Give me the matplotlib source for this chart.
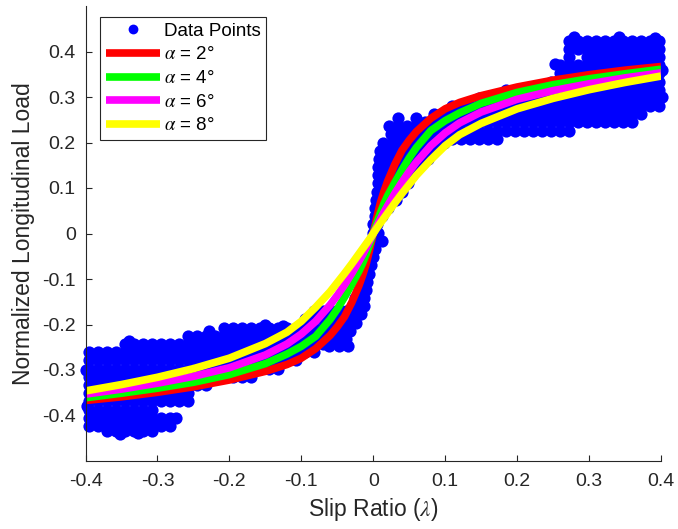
import numpy as np
import matplotlib.pyplot as plt

plt.rcParams['font.family'] = 'Liberation Sans'
plt.rcParams['mathtext.fontset'] = 'stix'

# fitted curves
slip = [-0.4, -0.35, -0.3, -0.25, -0.2, -0.15, -0.12, -0.1, -0.08, -0.06, -0.05, -0.04,
        -0.03, -0.02, -0.015, -0.01, -0.005, 0.0, 0.005, 0.01, 0.015, 0.02, 0.03, 0.04,
        0.05, 0.06, 0.08, 0.1, 0.12, 0.15, 0.2, 0.25, 0.3, 0.35, 0.4]
load_a2 = [-0.367, -0.359, -0.349, -0.337, -0.322, -0.303, -0.288, -0.274, -0.253, -0.224,
           -0.205, -0.183, -0.152, -0.115, -0.093, -0.068, -0.036, 0.0, 0.036, 0.068, 0.093,
           0.115, 0.152, 0.183, 0.205, 0.224, 0.253, 0.274, 0.288, 0.303, 0.322, 0.337, 0.349,
           0.359, 0.367]
load_a4 = [-0.361, -0.351, -0.340, -0.327, -0.310, -0.286, -0.265, -0.248, -0.226, -0.189,
           -0.166, -0.140, -0.112, -0.083, -0.066, -0.046, -0.024, 0.0, 0.024, 0.046, 0.066,
           0.083, 0.112, 0.140, 0.166, 0.189, 0.226, 0.248, 0.265, 0.286, 0.310, 0.327, 0.340,
           0.351, 0.361]
load_a6 = [-0.353, -0.342, -0.329, -0.314, -0.295, -0.267, -0.243, -0.221, -0.193, -0.157,
           -0.136, -0.113, -0.088, -0.061, -0.047, -0.032, -0.016, 0.0, 0.016, 0.032, 0.047,
           0.061, 0.088, 0.113, 0.136, 0.157, 0.193, 0.221, 0.243, 0.267, 0.295, 0.314, 0.329,
           0.342, 0.353]
load_a8 = [-0.346, -0.332, -0.316, -0.297, -0.274, -0.242, -0.217, -0.193, -0.162, -0.128,
           -0.108, -0.088, -0.067, -0.045, -0.034, -0.023, -0.012, 0.0, 0.012, 0.023, 0.034,
           0.045, 0.067, 0.088, 0.108, 0.128, 0.162, 0.193, 0.217, 0.242, 0.274, 0.297, 0.316,
           0.332, 0.346]
curve_labels = [r'$\alpha$ = 2°', r'$\alpha$ = 4°', r'$\alpha$ = 6°', r'$\alpha$ = 8°']

# measured points, one row per load level: (load, [slip values])
rows_right = [
    (0.424, [0.272, 0.285, 0.297, 0.310, 0.322, 0.335, 0.347, 0.360, 0.372, 0.385, 0.397]),
    (0.406, [0.272, 0.285, 0.297, 0.310, 0.322, 0.335, 0.347, 0.360, 0.372, 0.385, 0.397]),
    (0.388, [0.272, 0.297, 0.310, 0.322, 0.335, 0.347, 0.360, 0.372, 0.385, 0.397]),
    (0.370, [0.260, 0.272, 0.285, 0.297, 0.310, 0.322, 0.335, 0.347, 0.360, 0.372, 0.385,
             0.397]),
    (0.352, [0.260, 0.272, 0.285, 0.297, 0.310, 0.322, 0.335, 0.347, 0.360, 0.372, 0.385,
             0.397]),
    (0.334, [0.247, 0.260, 0.272, 0.285, 0.297, 0.310, 0.322, 0.335, 0.347, 0.360, 0.372,
             0.385, 0.397]),
    (0.316, [0.185, 0.197, 0.210, 0.222, 0.235, 0.247, 0.260, 0.272, 0.285, 0.297, 0.310,
             0.322, 0.335, 0.347, 0.360, 0.372, 0.385, 0.397]),
    (0.298, [0.147, 0.160, 0.172, 0.185, 0.197, 0.210, 0.222, 0.235, 0.247, 0.260, 0.272,
             0.285, 0.297, 0.310, 0.322, 0.335, 0.347, 0.360, 0.372, 0.385, 0.397]),
    (0.280, [0.110, 0.122, 0.135, 0.147, 0.160, 0.172, 0.185, 0.197, 0.210, 0.222, 0.235,
             0.247, 0.260, 0.272, 0.285, 0.297, 0.310, 0.322, 0.335, 0.347, 0.360, 0.372,
             0.385, 0.397]),
    (0.262, [0.085, 0.097, 0.110, 0.122, 0.135, 0.147, 0.160, 0.172, 0.185, 0.197, 0.210,
             0.222, 0.235, 0.247, 0.260, 0.272, 0.285, 0.297, 0.310, 0.322, 0.335, 0.347,
             0.360, 0.372]),
    (0.244, [0.072, 0.085, 0.097, 0.110, 0.122, 0.135, 0.147, 0.160, 0.172, 0.185, 0.197,
             0.210, 0.222, 0.235, 0.247, 0.260, 0.272, 0.285, 0.297, 0.310, 0.322, 0.335,
             0.347, 0.360]),
    (0.226, [0.060, 0.072, 0.085, 0.097, 0.110, 0.122, 0.135, 0.147, 0.160, 0.172, 0.185,
             0.197, 0.210, 0.222, 0.235, 0.247, 0.260, 0.272]),
    (0.208, [0.047, 0.060, 0.072, 0.085, 0.097, 0.110, 0.122, 0.135, 0.147, 0.160, 0.172]),
]
rows_center = [
    (0.254, [0.035, 0.060]),
    (0.236, [0.022, 0.035, 0.047, 0.060]),
    (0.218, [0.024, 0.035, 0.047, 0.055]),
    (0.200, [0.014, 0.026, 0.038, 0.050, 0.062, 0.074, 0.086, 0.098]),
    (0.182, [0.010, 0.022, 0.034, 0.046, 0.058, 0.070, 0.082]),
    (0.164, [0.008, 0.019, 0.030, 0.042, 0.054, 0.066, 0.076]),
    (0.146, [0.007, 0.016, 0.026, 0.038, 0.050, 0.062]),
    (0.128, [0.006, 0.014, 0.023, 0.034, 0.045, 0.054]),
    (0.110, [0.006, 0.012, 0.020, 0.030, 0.040, 0.048]),
    (0.092, [0.005, 0.011, 0.018, 0.026, 0.034, 0.040]),
    (0.074, [0.004, 0.010, 0.016, 0.024, 0.031]),
    (0.056, [0.003, 0.008, 0.014, 0.020]),
    (0.038, [0.002, 0.006, 0.012]),
    (0.020, [0.000, 0.005]),
    (0.002, [0.000, 0.006]),
    (-0.016, [0.004, 0.012]),
    (-0.034, [-0.004, 0.002]),
    (-0.052, [-0.006, 0.000]),
    (-0.070, [-0.010, -0.003]),
    (-0.088, [-0.013, -0.006]),
    (-0.106, [-0.016, -0.008]),
    (-0.124, [-0.020, -0.010]),
    (-0.142, [-0.025, -0.013]),
    (-0.160, [-0.030, -0.020, -0.013]),
    (-0.178, [-0.036, -0.026, -0.017]),
    (-0.196, [-0.043, -0.033, -0.024]),
    (-0.214, [-0.052, -0.042, -0.033]),
    (-0.232, [-0.062, -0.050, -0.038]),
    (-0.248, [-0.061, -0.048, -0.035]),
]
rows_left = [
    (-0.171, [-0.083, -0.070, -0.058, -0.045, -0.038]),
    (-0.189, [-0.095, -0.083, -0.070, -0.058, -0.045]),
    (-0.207, [-0.208, -0.195, -0.183, -0.170, -0.158, -0.145, -0.133, -0.120, -0.108, -0.095,
              -0.083, -0.070, -0.058]),
    (-0.225, [-0.258, -0.245, -0.233, -0.220, -0.208, -0.195, -0.183, -0.170, -0.158, -0.145,
              -0.133, -0.120, -0.108, -0.095, -0.083, -0.070, -0.058]),
    (-0.243, [-0.345, -0.333, -0.320, -0.308, -0.295, -0.283, -0.270, -0.258, -0.245, -0.233,
              -0.220, -0.208, -0.195, -0.183, -0.170, -0.158, -0.145, -0.133, -0.120, -0.108,
              -0.095, -0.083, -0.070]),
    (-0.261, [-0.395, -0.383, -0.370, -0.358, -0.345, -0.333, -0.320, -0.308, -0.295, -0.283,
              -0.270, -0.258, -0.245, -0.233, -0.220, -0.208, -0.195, -0.183, -0.170, -0.158,
              -0.145, -0.133, -0.120, -0.108, -0.095, -0.083]),
    (-0.279, [-0.395, -0.383, -0.370, -0.358, -0.345, -0.333, -0.320, -0.308, -0.295, -0.283,
              -0.270, -0.258, -0.245, -0.233, -0.220, -0.208, -0.195, -0.183, -0.170, -0.158,
              -0.145, -0.133, -0.120, -0.108]),
    (-0.297, [-0.395, -0.383, -0.370, -0.358, -0.345, -0.333, -0.320, -0.308, -0.295, -0.283,
              -0.270, -0.258, -0.245, -0.233, -0.220, -0.208, -0.195, -0.183, -0.170, -0.158,
              -0.145, -0.133]),
    (-0.315, [-0.395, -0.383, -0.370, -0.358, -0.345, -0.333, -0.320, -0.308, -0.295, -0.283,
              -0.270, -0.258, -0.245, -0.233, -0.220, -0.208, -0.195, -0.183, -0.170]),
    (-0.333, [-0.395, -0.383, -0.370, -0.358, -0.345, -0.333, -0.320, -0.308, -0.295, -0.283,
              -0.270, -0.258, -0.245, -0.233]),
    (-0.351, [-0.395, -0.383, -0.370, -0.358, -0.345, -0.333, -0.320, -0.308, -0.295, -0.283,
              -0.270, -0.258]),
    (-0.369, [-0.395, -0.383, -0.370, -0.358, -0.345, -0.333, -0.320, -0.308, -0.295, -0.283,
              -0.270, -0.258]),
    (-0.387, [-0.395, -0.383, -0.370, -0.358, -0.345, -0.333, -0.320, -0.308]),
    (-0.405, [-0.395, -0.383, -0.370, -0.358, -0.345, -0.333, -0.320, -0.308, -0.295, -0.283,
              -0.274]),
    (-0.423, [-0.395, -0.383, -0.370, -0.358, -0.345, -0.333, -0.320, -0.308, -0.295, -0.283]),
    (-0.434, [-0.370, -0.358, -0.345, -0.333, -0.320, -0.308]),
]
# stray points on the edges of the clouds
edge_slip = [0.279, 0.341, 0.391, 0.402, 0.401, 0.253, -0.399, -0.398, -0.352, -0.327,
             -0.340, -0.228, -0.150, -0.125]
edge_load = [0.431, 0.432, 0.430, 0.360, 0.300, 0.372, -0.300, -0.380, -0.440, -0.439,
             -0.236, -0.214, -0.201, -0.203]

xticks = [-0.4, -0.3, -0.2, -0.1, 0, 0.1, 0.2, 0.3, 0.4]
xtick_labels = ['-0.4', '-0.3', '-0.2', '-0.1', '0', '0.1', '0.2', '0.3', '0.4']
yticks = [-0.4, -0.3, -0.2, -0.1, 0, 0.1, 0.2, 0.3, 0.4]
ytick_labels = ['-0.4', '-0.3', '-0.2', '-0.1', '0', '0.1', '0.2', '0.3', '0.4']


def flatten(rows):
    xs, ys = [], []
    for y, row in rows:
        xs += row
        ys += [y] * len(row)
    return xs, ys


fig = plt.figure(figsize=(6.78, 5.29), dpi=100)
ax = fig.add_axes([85.5 / 678, 68 / 529, 575.5 / 678, 455 / 529])

px, py = list(edge_slip), list(edge_load)
for rows in (rows_right, rows_center, rows_left):
    a, b = flatten(rows)
    px += a
    py += b
ax.plot(px, py, 'o', color='#0000ff', ms=8.8, mew=0, clip_on=False, label='Data Points')

colors = ['#ff0000', '#00ff00', '#ff00ff', '#ffff00']
for load, c, lab in zip([load_a2, load_a4, load_a6, load_a8], colors, curve_labels):
    ax.plot(slip, load, '-', color=c, lw=5.5, label=lab, solid_capstyle='butt')

ax.set_xlim(-0.4, 0.4)
ax.set_ylim(-0.5, 0.5)
ax.set_xticks(xticks)
ax.set_xticklabels(xtick_labels)
ax.set_yticks(yticks)
ax.set_yticklabels(ytick_labels)
for s in ['top', 'right']:
    ax.spines[s].set_visible(False)
for s in ['left', 'bottom']:
    ax.spines[s].set_color('#262626')
    ax.spines[s].set_linewidth(0.8)
ax.tick_params(direction='in', length=4, width=0.8, colors='#262626', labelsize=14)
ax.tick_params(axis='x', pad=9)
ax.tick_params(axis='y', pad=7)

ax.set_xlabel(r'Slip Ratio ($\lambda$)', fontsize=16.5, color='#262626')
ax.set_ylabel('Normalized Longitudinal Load', fontsize=16.5, color='#262626')
ax.xaxis.set_label_coords(0.5, -0.078)
ax.yaxis.set_label_coords(-0.087, 0.5)

leg = ax.legend(loc='upper left', bbox_to_anchor=(100 / 678, 1 - 17 / 529),
                bbox_transform=fig.transFigure, borderaxespad=0, fontsize=13.5,
                handlelength=2.9, handletextpad=0.2, borderpad=0.3, labelspacing=0.35,
                markerscale=0.8, fancybox=False, framealpha=1, edgecolor='#262626')
leg.get_frame().set_linewidth(0.8)

fig.savefig('out.png', dpi=100)
